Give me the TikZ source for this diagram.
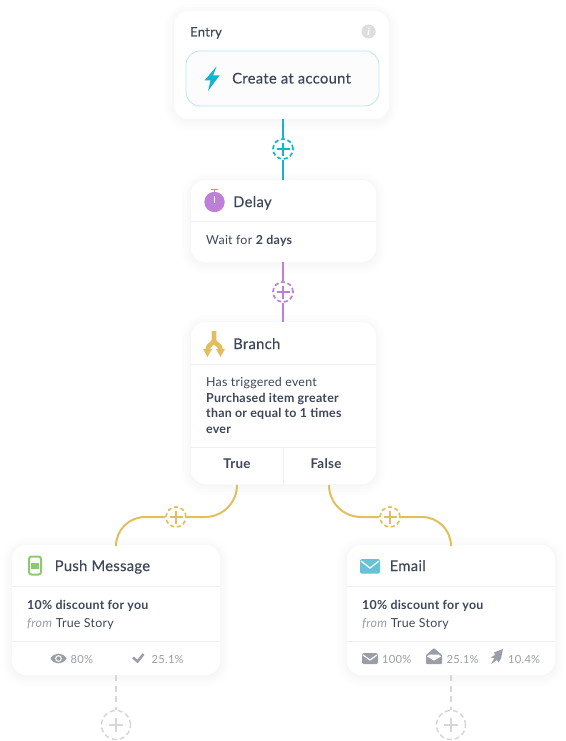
\documentclass[tikz,border=0pt]{standalone}
\usepackage{fontspec}
\setmainfont{Lato}[LetterSpace=2]
\newfontfamily\medfont{Lato}[FakeBold=0.3,LetterSpace=2]
\definecolor{ink}{HTML}{3D4759}
\definecolor{soft}{HTML}{9A9EA8}
\definecolor{rulec}{HTML}{EFF0F2}
\definecolor{cyanc}{HTML}{12B5D0}
\definecolor{purp}{HTML}{BD7FD8}
\definecolor{gold}{HTML}{E3BE5F}
\definecolor{grn}{HTML}{8FC873}
\definecolor{mailc}{HTML}{66C3D6}
\definecolor{dashc}{HTML}{D6D7D9}
\tikzset{
  card/.style={draw=none,fill=white,rounded corners=14pt,inner sep=0pt,
    preaction={draw=black,line width=18pt,opacity=.006,transform canvas={yshift=-2pt}},
    preaction={draw=black,line width=12pt,opacity=.006,transform canvas={yshift=-2pt}},
    preaction={draw=black,line width=7pt,opacity=.007,transform canvas={yshift=-2pt}},
    preaction={draw=black,line width=3pt,opacity=.008,transform canvas={yshift=-1pt}}},
  innerbox/.style={draw=cyanc!30,line width=.8pt,fill=black!1,rounded corners=14pt,inner sep=0pt},
  divide/.style={draw=rulec,line width=.9pt},
  titletxt/.style={anchor=base west,inner sep=0pt,text=ink,font=\medfont\fontsize{14.8}{16}\selectfont},
  bodytxt/.style={anchor=base west,inner sep=0pt,text=ink,font=\fontsize{12.4}{15.5}\selectfont},
  stattxt/.style={anchor=base west,inner sep=0pt,text=soft,font=\fontsize{11.2}{14}\selectfont},
  branchlbl/.style={anchor=base,inner sep=0pt,text=ink,font=\fontsize{13.4}{14}\selectfont\bfseries},
  addc/.style={circle,draw,dash pattern=on 4.2pt off 2.6pt,line width=1.7pt,fill=white,inner sep=0pt,minimum size=20pt},
  addg/.style={circle,draw=dashc,dash pattern=on 5pt off 3pt,line width=1.5pt,fill=white,inner sep=0pt,minimum size=29pt},
  linkline/.style={line width=2pt},
}
\newcommand{\plusmark}[3]{\draw[#2,line width=1.6pt] ([xshift=-#3pt]#1.center) -- ([xshift=#3pt]#1.center) ([yshift=-#3pt]#1.center) -- ([yshift=#3pt]#1.center);}
\begin{document}
\begin{tikzpicture}[x=1pt,y=-1pt]
\useasboundingbox (0,0) rectangle (565,741);
\node[card,minimum width=215pt,minimum height=108pt] (entry) at (281.5,65) {};
\node[card,minimum width=185pt,minimum height=82pt] (delay) at (283.5,221) {};
\node[card,minimum width=185pt,minimum height=162pt] (branch) at (283.5,403) {};
\node[card,minimum width=208pt,minimum height=130pt] (push) at (116,610) {};
\node[card,minimum width=208pt,minimum height=130pt] (email) at (451,610) {};
\node[innerbox,minimum width=193pt,minimum height=55pt] (trigger) at (282.5,78.5) {};
% dividers
\draw[divide] (191,221) -- (376,221);
\draw[divide] (191,364) -- (376,364);
\draw[divide] (191,447) -- (376,447);
\draw[divide] (283,447) -- (283,484);
\draw[divide] (12,586) -- (220,586);
\draw[divide] (12,641) -- (220,641);
\draw[divide] (347,586) -- (555,586);
\draw[divide] (347,641) -- (555,641);
% add buttons
\node[addc,draw=cyanc] (addA) at (283,149) {};
\node[addc,draw=purp] (addB) at (283,292) {};
\node[addc,draw=gold] (addL) at (176,517) {};
\node[addc,draw=gold] (addR) at (390,517) {};
\node[addg] (addP) at (116,725) {};
\node[addg] (addE) at (451,725) {};
\plusmark{addA}{cyanc}{6.5}
\plusmark{addB}{purp}{6.5}
\plusmark{addL}{gold}{6.5}
\plusmark{addR}{gold}{6.5}
\plusmark{addP}{dashc}{7}
\plusmark{addE}{dashc}{7}
% links
\coordinate (trueOut) at (237,485);
\coordinate (falseOut) at (329,485);
\coordinate (pushIn) at (116,545);
\coordinate (emailIn) at (451,545);
\draw[linkline,cyanc] (entry.south -| addA) -- (addA);
\draw[linkline,cyanc] (addA) -- (delay.north -| addA);
\draw[linkline,purp] (delay.south -| addB) -- (addB);
\draw[linkline,purp] (addB) -- (branch.north -| addB);
\draw[linkline,gold,rounded corners=32pt] (trueOut) |- (addL);
\draw[linkline,gold,rounded corners=29pt] (addL) -| (pushIn);
\draw[linkline,gold,rounded corners=32pt] (falseOut) |- (addR);
\draw[linkline,gold,rounded corners=29pt] (addR) -| (emailIn);
\draw[linkline,dashc,dash pattern=on 6pt off 4.5pt] (push.south -| addP) -- (addP);
\draw[linkline,dashc,dash pattern=on 6pt off 4.5pt] (email.south -| addE) -- (addE);
% entry
\node[titletxt,font=\medfont\fontsize{13}{16}\selectfont] (entryT) at (190,36.5) {Entry};
\fill[black!13] (368.5,31.5) circle (7pt);
\node[inner sep=0pt,text=white,font=\fontsize{10}{10}\selectfont\bfseries\itshape] (infoI) at (368.5,31.5) {i};
\fill[cyanc] (216,67) -- (204.5,80.5) -- (210.5,80.5) -- (208,91) -- (219.5,75.5) -- (213,75.5) -- (216.5,67) -- cycle;
\node[titletxt] (triggerT) at (232,83.5) {Create at account};
% delay
\fill[purp] (214.5,202) circle (10.2pt);
\draw[purp,line width=1.2pt] (211,189.5) -- (218,189.5) (214.5,189.5) -- (214.5,192);
\draw[white,line width=1pt] (214.5,196) -- (214.5,203);
\node[titletxt] (delayT) at (233,207) {Delay};
\node[bodytxt] (delayB) at (206,244.5) {Wait for \textbf{2 days}};
% branch
\draw[gold,line width=4.6pt,line join=round] (214,331) -- (214,340) .. controls (214,344) and (207.5,344) .. (207.5,350)
  (214,340) .. controls (214,344) and (220.5,344) .. (220.5,350);
\fill[gold] (203,349) -- (212,349) -- (207.5,357) -- cycle (216,349) -- (225,349) -- (220.5,357) -- cycle;
\node[titletxt] (branchT) at (233,349) {Branch};
\node[bodytxt,anchor=north west,align=left] (branchB) at (206,377.5) {Has triggered event\\\textbf{Purchased item greater}\\\textbf{than or equal to 1 times}\\\textbf{ever}};
\node[branchlbl] (trueL) at (237,468.5) {True};
\node[branchlbl] (falseL) at (326,468.5) {False};
% push
\draw[grn,line width=2pt,rounded corners=2.5pt,fill=white] (29,556.5) rectangle (41,574.5);
\fill[grn] (31,562.5) rectangle (39,568.5);
\node[titletxt] (pushT) at (54.5,571) {Push Message};
\node[bodytxt] (pushB) at (27,609) {\textbf{10\% discount for you}};
\node[bodytxt] (pushF) at (27,627) {\textcolor{soft}{\textit{from}} True Story};
\fill[soft] (50.5,658.5) .. controls (54,652) and (63,652) .. (66.5,658.5) .. controls (63,665) and (54,665) .. (50.5,658.5) -- cycle;
\fill[white] (58.5,658.5) circle (3.4pt);
\fill[soft] (58.5,658.5) circle (2.2pt);
\node[stattxt] (pushS1) at (70.5,663) {80\%};
\draw[soft,line width=2.5pt] (133,657.5) -- (137.5,661.5) -- (143.5,654);
\node[stattxt] (pushS2) at (151.5,663) {25.1\%};
% email
\fill[mailc,rounded corners=1.5pt] (360,559) rectangle (380,573.5);
\draw[white,line width=1.2pt] (361,561) -- (370,568) -- (379,561);
\node[titletxt] (emailT) at (389.5,571) {Email};
\node[bodytxt] (emailB) at (362,609) {\textbf{10\% discount for you}};
\node[bodytxt] (emailF) at (362,627) {\textcolor{soft}{\textit{from}} True Story};
\fill[soft,rounded corners=1.5pt] (362,653) rectangle (378,664);
\draw[white,line width=1.2pt] (363,655) -- (370,660) -- (377,655);
\node[stattxt] (emailS1) at (382,663) {100\%};
\fill[soft,rounded corners=1pt] (426,655) -- (434,648) -- (442,655) -- (442,664) -- (426,664) -- cycle;
\fill[white] (429.5,654.5) -- (438.5,654.5) -- (441,656.5) -- (434,660.5) -- (427,656.5) -- cycle;
\node[stattxt] (emailS2) at (446.5,663) {25.1\%};
\fill[soft] (503,649) -- (494,652.5) -- (495,655) -- (490.5,657.5) -- (494.5,658) -- (491,664) -- (497,660) -- (498.5,662.5) -- (501,658.5) -- cycle;
\node[stattxt] (emailS3) at (508,663) {10.4\%};
\end{tikzpicture}
\end{document}
